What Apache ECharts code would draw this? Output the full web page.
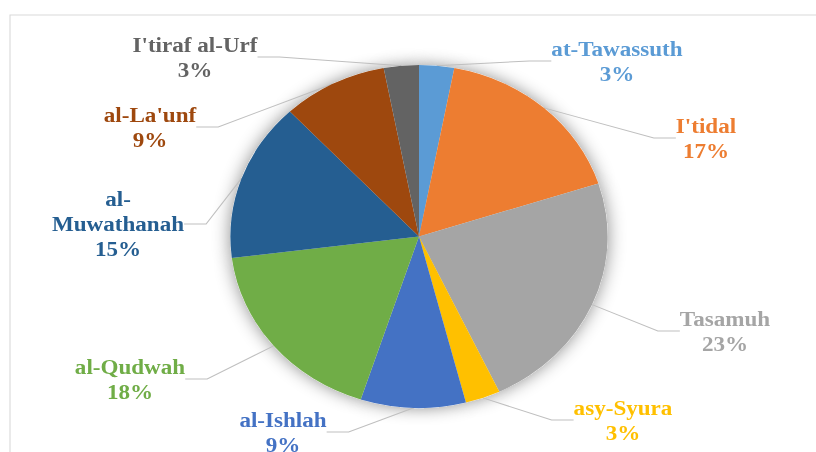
<!DOCTYPE html>
<html><head><meta charset="utf-8">
<script src="https://cdn.jsdelivr.net/npm/echarts@6/dist/echarts.min.js"></script>
<style>
html,body{margin:0;padding:0;background:#fff;overflow:hidden;width:816px;height:452px}
#wrap{position:absolute;left:0;top:0;width:742px;height:452px;transform:scaleX(1.1);transform-origin:0 0}
</style></head><body><div id="wrap"></div>
<script>
// ---- data ----
const categories = ["at-Tawassuth", "I'tidal", "Tasamuh", "asy-Syura", "al-Ishlah", "al-Qudwah", "al-Muwathanah", "al-La'unf", "I'tiraf al-Urf"];
const values = [3, 17, 23, 3, 9, 18, 15, 9, 3];

// ---- styles ----
const colors = ["#5B9BD5", "#ED7D31", "#A5A5A5", "#FFC000", "#4472C4", "#70AD47", "#255E91", "#9E480E", "#636363"];
const SX = 1.1; // horizontal stretch of the picture
// label block centres in picture pixels
const labelSpots = [[617, 61], [706, 138], [725, 331], [623, 420], [283, 432], [130, 379], [118, 224], [150, 127], [195, 57]];

const chart = echarts.init(document.getElementById('wrap'), null, {renderer: 'svg'});
const dataItems = categories.map((c, i) => ({
  name: c, value: values[i],
  itemStyle: {color: colors[i]},
  label: {color: colors[i]}
}));
const center = [419 / SX, 236.5];
const radius = 171.5;
chart.setOption({
  animation: false,
  backgroundColor: '#fff',
  graphic: [{
    type: 'rect', silent: true, z: -10,
    shape: {x: 10 / SX, y: 15, width: 2000, height: 2000},
    style: {fill: 'none', stroke: '#d9d9d9', lineWidth: 1}
  }],
  series: [{
    type: 'pie', silent: true, z: 1,
    center: center, radius: radius, startAngle: 90,
    data: dataItems.map(d => ({name: d.name, value: d.value})),
    label: {show: false}, labelLine: {show: false},
    itemStyle: {color: '#fff', shadowBlur: 16, shadowColor: 'rgba(0,0,0,0.45)', borderWidth: 0}
  }, {
    type: 'pie', z: 2,
    center: center, radius: radius, startAngle: 90,
    data: dataItems,
    itemStyle: {borderWidth: 0},
    emphasis: {disabled: true},
    label: {
      show: true, position: 'outside',
      fontFamily: 'Liberation Serif', fontWeight: 'bold', fontSize: 21, lineHeight: 25,
      align: 'center',
      formatter: function (p) {
        let n = p.name;
        if (n.length > 12 && n.indexOf(' ') < 0) {
          const k = n.indexOf('-');
          n = n.slice(0, k + 1) + '\n' + n.slice(k + 1);
        }
        return n + '\n' + Math.round(p.percent) + '%';
      }
    },
    labelLine: {show: true, length: 15, length2: 20, lineStyle: {color: '#bfbfbf', width: 1}},
    labelLayout: function (p) {
      const s = labelSpots[p.dataIndex];
      return {x: s[0] / SX, y: s[1], align: 'center', verticalAlign: 'middle'};
    }
  }]
});
</script>
</body></html>
